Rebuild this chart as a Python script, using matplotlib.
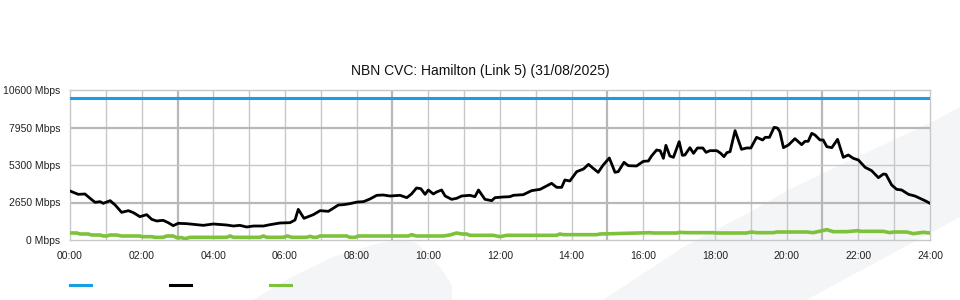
#!/usr/bin/env python3

import matplotlib
matplotlib.use('Agg')

from matplotlib import pyplot as plt
from matplotlib.lines import Line2D
from matplotlib.patches import Polygon

plt.rcParams['font.family'] = ['Liberation Sans', 'DejaVu Sans']

title = "NBN CVC: Hamilton (Link 5) (31/08/2025)"

# capacity (blue)
cap_hours = [0, 24]
cap_mbps = [10000, 10000]

# traffic (black)
black_hours = [0.0, 0.23, 0.42, 0.56, 0.70, 0.84, 0.93, 1.12, 1.26, 1.44, 1.63, 1.77, 1.95,
               2.14, 2.28, 2.42, 2.60, 2.74, 2.88, 3.02, 3.26, 3.44, 3.72, 4.00, 4.37, 4.56,
               4.74, 4.93, 5.12, 5.40, 5.58, 5.86, 6.14, 6.28, 6.37, 6.53, 6.79, 6.98, 7.21,
               7.49, 7.63, 7.81, 8.02, 8.19, 8.37, 8.56, 8.74, 8.93, 9.21, 9.40, 9.53, 9.67,
               9.79, 9.91, 10.00, 10.14, 10.23, 10.37, 10.47, 10.65, 10.79, 10.93, 11.16,
               11.30, 11.40, 11.58, 11.77, 11.86, 12.09, 12.28, 12.37, 12.65, 12.88, 13.12,
               13.21, 13.44, 13.58, 13.72, 13.81, 13.95, 14.14, 14.33, 14.47, 14.60, 14.74,
               14.88, 15.05, 15.21, 15.30, 15.46, 15.58, 15.81, 16.00, 16.14, 16.23, 16.37,
               16.47, 16.56, 16.63, 16.74, 16.84, 17.00, 17.09, 17.16, 17.30, 17.40, 17.51,
               17.66, 17.75, 17.86, 18.05, 18.16, 18.25, 18.33, 18.42, 18.56, 18.74, 18.88,
               19.00, 19.16, 19.33, 19.40, 19.52, 19.65, 19.74, 19.81, 19.91, 20.05, 20.23,
               20.42, 20.51, 20.60, 20.70, 20.79, 20.93, 21.02, 21.12, 21.26, 21.42, 21.58,
               21.72, 21.86, 22.00, 22.19, 22.37, 22.56, 22.70, 22.77, 22.93, 23.07, 23.21,
               23.40, 23.58, 23.86, 24.00]
black_mbps = [3463, 3227, 3251, 2945, 2662, 2709, 2591, 2780, 2473, 1955, 2073, 1932, 1649,
              1790, 1461, 1343, 1390, 1225, 1013, 1178, 1154, 1107, 1036, 1131, 1060, 989,
              1036, 919, 989, 989, 1083, 1201, 1225, 1413, 2167, 1531, 1790, 2073, 2026,
              2473, 2497, 2568, 2685, 2709, 2897, 3157, 3180, 3109, 3157, 2992, 3251, 3675,
              3628, 3227, 3533, 3251, 3392, 3533, 3109, 2874, 2945, 3109, 3157,
              3062, 3533, 2874, 2780, 2992, 3039, 3062, 3157, 3204, 3486, 3581,
              3698, 4005, 3722, 3722, 4240, 4170, 4829, 5018, 5347, 5065, 4782,
              5300, 5795, 4782, 4829, 5489, 5253, 5230, 5559, 5583, 5936, 6360,
              6313, 5771, 6690, 5936, 5842, 6949, 5983, 6007, 6525, 6125, 6502,
              6502, 6195, 6313, 6313, 6125, 5889, 6172, 6242, 7727, 6407, 6502,
              6502, 7255, 7067, 7255, 7255, 7962, 7915, 7656, 6525, 6714, 7161,
              6737, 6973, 6973, 7538, 7420, 7067, 7067, 6596, 6525, 7114, 5842,
              6007, 5771, 5654, 5135, 4900, 4405, 4664, 4641, 3887, 3581, 3533,
              3227, 3109, 2780, 2591]

# green series
green_hours = [0.0, 0.19, 0.28, 0.51, 0.60, 0.84, 0.93, 1.02, 1.12, 1.30, 1.44, 1.95, 2.00,
               2.28, 2.37, 2.60, 2.70, 2.88, 2.98, 3.12, 3.21, 3.35, 4.37, 4.47, 4.56, 5.30,
               5.40, 5.49, 5.95, 6.07, 6.19, 6.60, 6.70, 6.79, 6.88, 6.98, 7.72, 7.81, 7.95,
               8.05, 9.44, 9.53, 9.67, 10.42, 10.60, 10.79, 10.93, 11.07, 11.16, 11.44, 11.81,
               12.00, 12.19, 13.58, 13.67, 13.77, 14.70, 14.79, 16.19, 16.28, 16.93, 17.02,
               17.21, 17.95, 18.05, 18.88, 19.02, 19.16, 19.63, 19.72, 20.56, 20.74, 21.12,
               21.30, 21.67, 22.00, 22.05, 22.70, 22.88, 22.98, 23.35, 23.53, 23.81, 24.00]
green_mbps = [495, 495, 424, 424, 353, 353, 283, 283, 353, 353, 283, 283, 236,
              236, 189, 189, 283, 283, 165, 165, 94, 189, 189, 283, 189, 189,
              283, 189, 189, 283, 189, 189, 260, 189, 189, 283, 283, 189, 189,
              283, 283, 377, 283, 283, 353, 495, 424, 424, 330, 330, 330,
              236, 330, 330, 424, 377, 377, 424, 518, 495, 495, 542,
              518, 518, 495, 495, 565, 518, 518, 565, 565, 518, 730,
              589, 589, 660, 612, 612, 518, 565, 565, 448, 542, 495]

y_ticks = [0, 2650, 5300, 7950, 10600]
x_ticks = list(range(0, 25, 2))

W, H = 960, 300
fig = plt.figure(figsize=(W / 100, H / 100), dpi=100, facecolor='white')

# faint background watermark, kept behind the axes
wm = '#f4f5f7'
band = [(603, 300), (685, 246), (750, 212), (792, 188), (936, 120), (960, 107),
        (960, 217), (806, 300)]
blob = [(253, 300), (290, 278), (333, 257), (380, 243), (400, 240), (417, 243),
        (440, 267), (452, 285), (452, 300)]
for pts in (band, blob):
    fig.patches.append(Polygon([(x / W, 1 - y / H) for x, y in pts], closed=True,
                               transform=fig.transFigure, facecolor=wm,
                               edgecolor='none', zorder=-5))

ax = fig.add_axes([70 / W, 60 / H, 860 / W, 150 / H])
ax.set_zorder(2)
ax.patch.set_visible(False)

ax.set_xlim(0, 24)
ax.set_ylim(0, 10600)

grid_c = '#c8c8c8'
for h in range(1, 24):
    strong = h % 6 == 3
    ax.axvline(h, color='#b8b8b8' if strong else grid_c, lw=1.6 if strong else 1.0, zorder=1)
for v in y_ticks[1:-1]:
    strong = v != 5300
    ax.axhline(v, color='#b8b8b8' if strong else grid_c, lw=1.6 if strong else 1.0, zorder=1)

for s in ax.spines.values():
    s.set_color(grid_c)
    s.set_linewidth(1.0)

ax.plot(cap_hours, cap_mbps, color='#1a9ee2', lw=2.2, zorder=3)
ax.plot(green_hours, green_mbps, color='#7dc23a', lw=2.6, zorder=3)
ax.plot(black_hours, black_mbps, color='black', lw=2.0, zorder=4)

ax.set_xticks(x_ticks)
ax.set_xticklabels(['%02d:00' % h for h in x_ticks])
ax.set_yticks(y_ticks)
ax.set_yticklabels(['%d Mbps' % v for v in y_ticks])
ax.tick_params(axis='x', length=0, pad=8, labelsize=7.5, colors='#222222')
ax.tick_params(axis='y', length=0, pad=7, labelsize=7.5, colors='#222222')

fig.text(0.5, 1 - 71 / H, title, ha='center', va='center', fontsize=10, color='#111111')

# legend swatches (no labels in the original)
for x0, c in ((70, '#1a9ee2'), (170, 'black'), (270, '#7dc23a')):
    fig.add_artist(Line2D([x0 / W, (x0 + 21) / W], [1 - 285 / H, 1 - 285 / H],
                          transform=fig.transFigure, color=c, lw=2.2))

fig.savefig('out.png', dpi=100, facecolor='white')
plt.close('all')
